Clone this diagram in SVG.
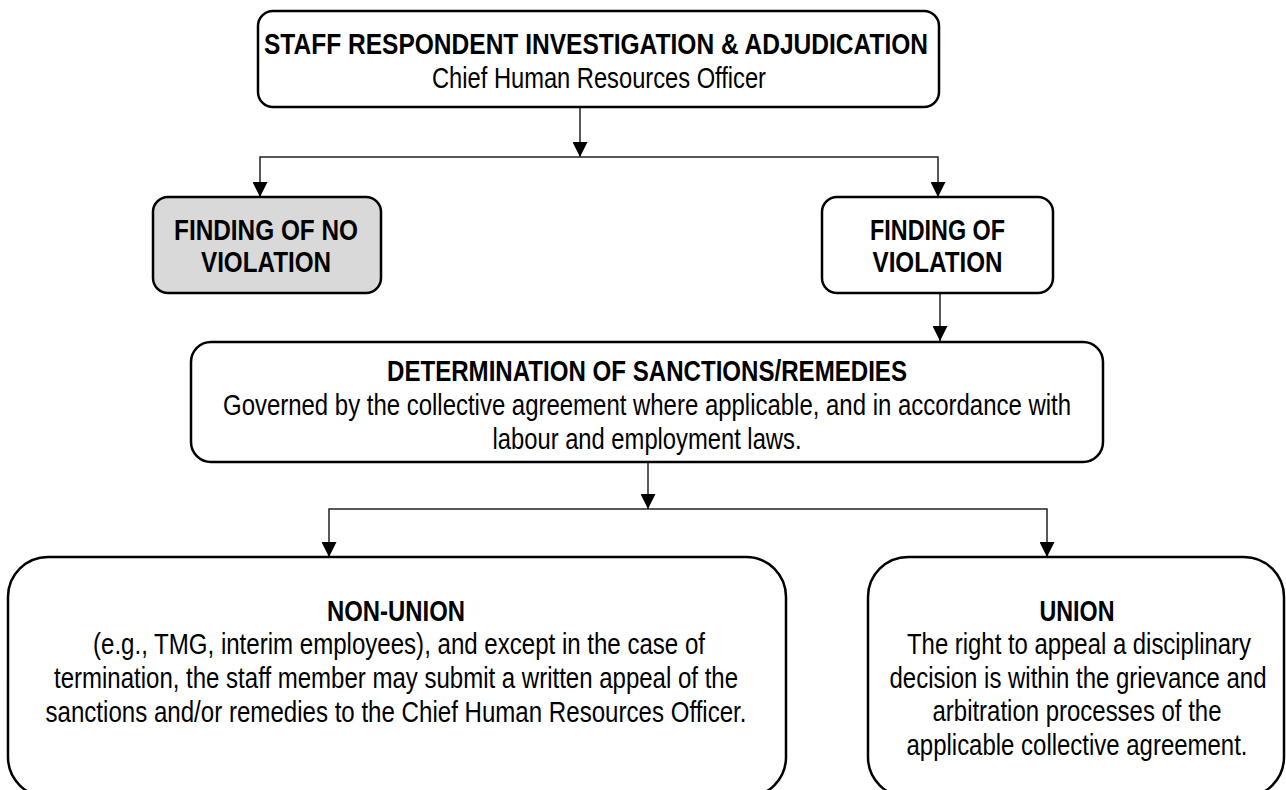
<svg xmlns="http://www.w3.org/2000/svg" width="1286" height="790" viewBox="0 0 1286 790">
<style>
.box{fill:#fff;stroke:#000;stroke-width:2.5}
.gray{fill:#d9d9d9}
.conn{fill:none;stroke:#222;stroke-width:1.5}
text{font-family:"Liberation Sans Narrow","Arial Narrow","Liberation Sans",Arial,sans-serif;font-size:29px;text-anchor:middle;fill:#000}
.b{font-weight:bold}
</style>
<defs>
<marker id="arr" viewBox="0 0 15 15" markerWidth="15" markerHeight="15" refX="15" refY="7.5" orient="auto" markerUnits="userSpaceOnUse">
<path d="M0,0 L15,7.5 L0,15 z" fill="#000"/>
</marker>
</defs>
<rect width="1286" height="790" fill="#fff"/>
<g id="connectors">
<path class="conn" d="M580,107 V157" marker-end="url(#arr)"/>
<path class="conn" d="M580,157 H260 V197" marker-end="url(#arr)"/>
<path class="conn" d="M580,157 H938 V197" marker-end="url(#arr)"/>
<path class="conn" d="M940,293 V341" marker-end="url(#arr)"/>
<path class="conn" d="M648,462 V509" marker-end="url(#arr)"/>
<path class="conn" d="M648,509 H329 V557" marker-end="url(#arr)"/>
<path class="conn" d="M648,509 H1047 V557" marker-end="url(#arr)"/>
</g>
<g id="node-investigation">
<rect class="box" x="258" y="11" width="681" height="96" rx="15"/>
<text class="b" x="596" y="54" textLength="664" lengthAdjust="spacingAndGlyphs">STAFF RESPONDENT INVESTIGATION &amp; ADJUDICATION</text>
<text x="599" y="88" textLength="334" lengthAdjust="spacingAndGlyphs">Chief Human Resources Officer</text>
</g>
<g id="node-no-violation">
<rect class="box gray" x="153" y="197" width="228" height="96" rx="15"/>
<text class="b" x="266" y="240" textLength="184" lengthAdjust="spacingAndGlyphs">FINDING OF NO</text>
<text class="b" x="266" y="272" textLength="130" lengthAdjust="spacingAndGlyphs">VIOLATION</text>
</g>
<g id="node-violation">
<rect class="box" x="822" y="197" width="231" height="96" rx="15"/>
<text class="b" x="937.5" y="240" textLength="135" lengthAdjust="spacingAndGlyphs">FINDING OF</text>
<text class="b" x="937.5" y="272" textLength="130" lengthAdjust="spacingAndGlyphs">VIOLATION</text>
</g>
<g id="node-determination">
<rect class="box" x="191" y="342" width="912" height="120" rx="20"/>
<text class="b" x="647" y="381" textLength="520" lengthAdjust="spacingAndGlyphs">DETERMINATION OF SANCTIONS/REMEDIES</text>
<text x="647" y="415" textLength="848" lengthAdjust="spacingAndGlyphs">Governed by the collective agreement where applicable, and in accordance with</text>
<text x="647" y="449" textLength="309" lengthAdjust="spacingAndGlyphs">labour and employment laws.</text>
</g>
<g id="node-non-union">
<rect class="box" x="8" y="557" width="778" height="240" rx="40"/>
<text class="b" x="396" y="621" textLength="138" lengthAdjust="spacingAndGlyphs">NON-UNION</text>
<text x="399" y="654" textLength="612" lengthAdjust="spacingAndGlyphs">(e.g., TMG, interim employees), and except in the case of</text>
<text x="396" y="688" textLength="684" lengthAdjust="spacingAndGlyphs">termination, the staff member may submit a written appeal of the</text>
<text x="396" y="722" textLength="701" lengthAdjust="spacingAndGlyphs">sanctions and/or remedies to the Chief Human Resources Officer.</text>
</g>
<g id="node-union">
<rect class="box" x="868" y="557" width="416" height="240" rx="40"/>
<text class="b" x="1077" y="621" textLength="75" lengthAdjust="spacingAndGlyphs">UNION</text>
<text x="1079" y="654" textLength="344" lengthAdjust="spacingAndGlyphs">The right to appeal a disciplinary</text>
<text x="1078" y="688" textLength="377" lengthAdjust="spacingAndGlyphs">decision is within the grievance and</text>
<text x="1077" y="721" textLength="289" lengthAdjust="spacingAndGlyphs">arbitration processes of the</text>
<text x="1077" y="755" textLength="341" lengthAdjust="spacingAndGlyphs">applicable collective agreement.</text>
</g>
</svg>
